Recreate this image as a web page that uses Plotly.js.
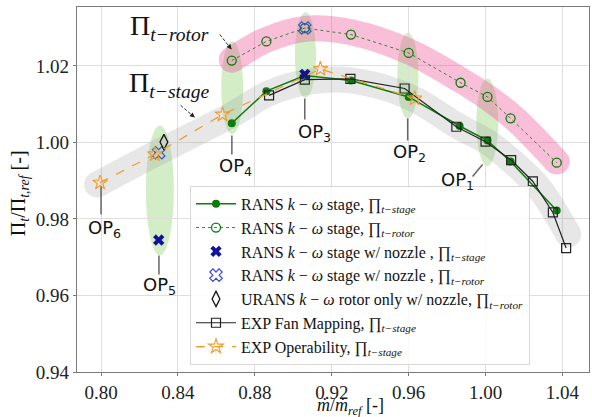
<!DOCTYPE html>
<html>
<head>
<meta charset="utf-8">
<script src="https://cdn.plot.ly/plotly-3.0.1.min.js"></script>
<style>
  html, body { margin: 0; padding: 0; background: #fff; }
  #chart { width: 592px; height: 417px; }
</style>
</head>
<body>
<div id="chart"></div>
<script>
// Normalised mass flow vs. normalised total pressure ratio

// RANS k-omega stage, stage pressure ratio
const ransStageX = [0.868, 0.886, 0.906, 0.930, 0.960, 0.9865, 1.001, 1.013, 1.037];
const ransStageY = [1.0050, 1.0134, 1.0175, 1.0162, 1.0119, 1.0043, 1.0005, 0.9950, 0.9822];

// RANS k-omega stage, rotor pressure ratio
const ransRotorX = [0.868, 0.886, 0.906, 0.930, 0.960, 0.987, 1.001, 1.013, 1.037];
const ransRotorY = [1.0214, 1.0264, 1.0299, 1.0282, 1.0234, 1.0156, 1.0119, 1.0063, 0.9947];

// RANS k-omega stage with nozzle
const nozzleStageX = [0.830, 0.906];
const nozzleStageY = [0.9745, 1.0178];
const nozzleRotorX = [0.830, 0.906];
const nozzleRotorY = [0.9973, 1.0299];

// URANS rotor only with nozzle
const uransX = [0.8327];
const uransY = [1.0001];

// Experiment: fan mapping
const expMapX = [0.8874, 0.906, 0.9297, 0.9579, 0.9848, 1.000, 1.0133, 1.0246, 1.035, 1.0419];
const expMapY = [1.0123, 1.0164, 1.0166, 1.0141, 1.0041, 1.0002, 0.9954, 0.9898, 0.9817, 0.9724];

// Experiment: operability
const expOpX = [0.7995, 0.828, 0.8632, 0.9141, 0.9631];
const expOpY = [0.9895, 0.9969, 1.0073, 1.0192, 1.0115];

// Highlight bands following each pressure-ratio family
const bandRotorX = [0.868, 0.886, 0.906, 0.930, 0.960, 0.987, 1.001, 1.015, 1.037];
const bandRotorY = [1.0216, 1.0268, 1.0297, 1.0288, 1.0238, 1.0163, 1.0118, 1.0063, 0.9950];
const bandStageX = [0.798, 0.830, 0.868, 0.888, 0.910, 0.930, 0.960, 0.986, 1.002, 1.015, 1.028, 1.043];
const bandStageY = [0.9890, 0.9975, 1.0072, 1.0130, 1.0160, 1.0162, 1.0120, 1.0042, 0.9998, 0.9945, 0.9880, 0.9760];

// Operating points: highlight ellipses, leader lines and labels
const opNames = ['OP<sub>1</sub>', 'OP<sub>2</sub>', 'OP<sub>3</sub>', 'OP<sub>4</sub>', 'OP<sub>5</sub>', 'OP<sub>6</sub>'];
const opEllipseX = [1.0009, 0.9596, 0.9063, 0.8682, 0.8306, null];
const opEllipseHalfW = [0.0057, 0.0055, 0.0055, 0.0057, 0.0073, null];
const opEllipseY0 = [0.9938, 1.0062, 1.0117, 1.0021, 0.9705, null];
const opEllipseY1 = [1.0167, 1.0287, 1.0340, 1.0265, 1.0044, null];
const opLeadX0 = [0.99844, 0.95948, 0.90597, 0.86805, 0.83013, 0.80000];
const opLeadY0 = [0.99425, 1.00627, 1.01150, 1.00183, 0.97046, 0.98850];
const opLeadX1 = [0.99325, 0.95948, 0.90597, 0.86805, 0.83013, 0.80000];
const opLeadY1 = [0.99111, 1.00052, 1.00601, 0.99686, 0.96549, 0.98118];
const opLabelX = [0.98545, 0.96052, 0.91086, 0.87013, 0.83065, 0.80156];
const opLabelY = [0.98980, 0.99712, 1.00235, 0.99346, 0.96235, 0.97725];

// Family labels with pointer arrows
const famText = ['Π<sub><i>t−rotor</i></sub>', 'Π<sub><i>t−stage</i></sub>'];
const famTextX = [0.8358, 0.8358];
const famTextY = [1.0300, 1.0152];
const famArrowX0 = [0.8618, 0.8414];
const famArrowY0 = [1.0282, 1.0097];
const famArrowX1 = [0.8679, 0.8488];
const famArrowY1 = [1.0243, 1.0065];

const xRange = [0.7875, 1.0538];
const yRange = [0.94, 1.0354];
const xTicks = [0.80, 0.84, 0.88, 0.92, 0.96, 1.00, 1.04];
const yTicks = [0.94, 0.96, 0.98, 1.00, 1.02];

const serif = 'Liberation Serif, Times New Roman, serif';
const sans = 'DejaVu Sans, sans-serif';
const green = '#0b7d0b';

const traces = [
  {
    x: bandStageX, y: bandStageY, mode: 'lines+markers', showlegend: false, hoverinfo: 'skip',
    line: { color: 'rgb(150,150,150)', width: 26, shape: 'spline' },
    marker: { color: 'rgb(150,150,150)', size: 26, line: { width: 0 }, opacity: [1,0,0,0,0,0,0,0,0,0,0,1] },
    opacity: 0.22
  },
  {
    x: bandRotorX, y: bandRotorY, mode: 'lines+markers', showlegend: false, hoverinfo: 'skip',
    line: { color: 'rgb(240,80,150)', width: 26, shape: 'spline' },
    marker: { color: 'rgb(240,80,150)', size: 26, line: { width: 0 }, opacity: [1,0,0,0,0,0,0,0,1] },
    opacity: 0.36
  },
  {
    name: 'RANS <i>k</i> − <i>ω</i> stage, ∏<sub><i>t−stage</i></sub>',
    x: ransStageX, y: ransStageY, mode: 'lines+markers',
    line: { color: green, width: 1.5 },
    marker: { symbol: 'circle', size: 8, color: green }
  },
  {
    name: 'RANS <i>k</i> − <i>ω</i> stage, ∏<sub><i>t−rotor</i></sub>',
    x: ransRotorX, y: ransRotorY, mode: 'lines+markers',
    line: { color: '#3f7f3f', width: 1, dash: 'dot' },
    marker: { symbol: 'circle-open', size: 9, color: green, line: { width: 1.3 } }
  },
  {
    name: 'RANS <i>k</i> − <i>ω</i> stage w/ nozzle , ∏<sub><i>t−stage</i></sub>',
    x: nozzleStageX, y: nozzleStageY, mode: 'markers',
    marker: { symbol: 'x', size: 10, color: '#12129a' }
  },
  {
    name: 'RANS <i>k</i> − <i>ω</i> stage w/ nozzle , ∏<sub><i>t−rotor</i></sub>',
    x: nozzleRotorX, y: nozzleRotorY, mode: 'markers',
    marker: { symbol: 'x-open', size: 11, color: '#3a4ee0', line: { width: 1.2 } }
  },
  {
    name: 'URANS <i>k</i> − <i>ω</i> rotor only w/ nozzle, ∏<sub><i>t−rotor</i></sub>',
    x: uransX, y: uransY, mode: 'markers',
    marker: { symbol: 'diamond-tall-open', size: 11, color: '#111', line: { width: 1.3 } }
  },
  {
    name: 'EXP Fan Mapping, ∏<sub><i>t−stage</i></sub>',
    x: expMapX, y: expMapY, mode: 'lines+markers',
    line: { color: '#222', width: 1.2 },
    marker: { symbol: 'square-open', size: 9, color: '#222', line: { width: 1.2 } }
  },
  {
    name: 'EXP Operability, ∏<sub><i>t−stage</i></sub>',
    x: expOpX, y: expOpY, mode: 'lines+markers',
    line: { color: '#f29a2e', width: 1.2, dash: 'dash' },
    marker: { symbol: 'star-open', size: 11, color: '#f29a2e', line: { width: 1.1 } }
  }
];

const shapes = [];
const annotations = [];

opNames.forEach((name, i) => {
  if (opEllipseX[i] !== null) {
    shapes.push({
      type: 'circle', xref: 'x', yref: 'y', layer: 'below',
      x0: opEllipseX[i] - opEllipseHalfW[i], x1: opEllipseX[i] + opEllipseHalfW[i],
      y0: opEllipseY0[i], y1: opEllipseY1[i],
      fillcolor: 'rgba(110,200,70,0.30)', line: { width: 0 }
    });
  }
  shapes.push({
    type: 'line', xref: 'x', yref: 'y',
    x0: opLeadX0[i], y0: opLeadY0[i], x1: opLeadX1[i], y1: opLeadY1[i],
    line: { color: '#666', width: 1.5 }
  });
  annotations.push({
    x: opLabelX[i], y: opLabelY[i], xref: 'x', yref: 'y', text: name, showarrow: false,
    font: { family: sans, size: 18, color: '#111' }, xanchor: 'center', yanchor: 'middle'
  });
});

famText.forEach((t, i) => {
  annotations.push({
    x: famTextX[i], y: famTextY[i], xref: 'x', yref: 'y', text: t, showarrow: false,
    font: { family: serif, size: 28, color: '#111' }, xanchor: 'center', yanchor: 'middle'
  });
  shapes.push({
    type: 'line', xref: 'x', yref: 'y',
    x0: famArrowX0[i], y0: famArrowY0[i], x1: famArrowX1[i], y1: famArrowY1[i],
    line: { color: '#222', width: 1, dash: '3px,2px' }
  });
  annotations.push({
    x: famArrowX1[i], y: famArrowY1[i], xref: 'x', yref: 'y', text: '',
    showarrow: true, arrowhead: 2, arrowsize: 1, arrowwidth: 1, arrowcolor: '#222',
    ax: famArrowX1[i] - (famArrowX1[i] - famArrowX0[i]) * 0.35,
    ay: famArrowY1[i] - (famArrowY1[i] - famArrowY0[i]) * 0.35,
    axref: 'x', ayref: 'y', standoff: 0
  });
});

// axis titles
annotations.push({
  xref: 'paper', yref: 'paper', x: 0.535, y: 0, yshift: -34, yanchor: 'middle', xanchor: 'center',
  showarrow: false, text: '<i>ṁ</i>/<i>ṁ</i><sub><i>ref</i></sub> [-]',
  font: { family: serif, size: 18, color: '#111' }
});
annotations.push({
  xref: 'paper', yref: 'paper', x: 0, xshift: -58, y: 0.49, xanchor: 'center', yanchor: 'middle',
  textangle: -90, showarrow: false, text: 'Π<sub><i>t</i></sub>/Π<sub><i>t,ref</i></sub> [-]',
  font: { family: serif, size: 20, color: '#111' }
});

const axisCommon = {
  showline: true, mirror: true, linecolor: '#7a7a7a', linewidth: 1.2,
  showgrid: true, gridcolor: '#dedede', gridwidth: 1, zeroline: false,
  ticks: 'outside', ticklen: 3, tickcolor: '#7a7a7a',
  tickfont: { family: serif, size: 19, color: '#222' }
};

const layout = {
  width: 592, height: 417,
  margin: { l: 77, r: 3, t: 7, b: 45 },
  paper_bgcolor: '#fff', plot_bgcolor: '#fff',
  showlegend: true,
  legend: {
    x: 0.2207, y: 0.5100, xanchor: 'left', yanchor: 'top',
    bgcolor: 'rgba(255,255,255,0.85)', bordercolor: '#d8d8d8', borderwidth: 1,
    font: { family: serif, size: 16, color: '#111' },
    itemwidth: 40, tracegroupgap: 0
  },
  xaxis: Object.assign({}, axisCommon, {
    range: xRange, tickvals: xTicks, ticktext: xTicks.map(v => v.toFixed(2))
  }),
  yaxis: Object.assign({}, axisCommon, {
    range: yRange, tickvals: yTicks, ticktext: yTicks.map(v => v.toFixed(2))
  }),
  shapes: shapes,
  annotations: annotations
};

Plotly.newPlot('chart', traces, layout, { displayModeBar: false, staticPlot: true });
</script>
</body>
</html>
